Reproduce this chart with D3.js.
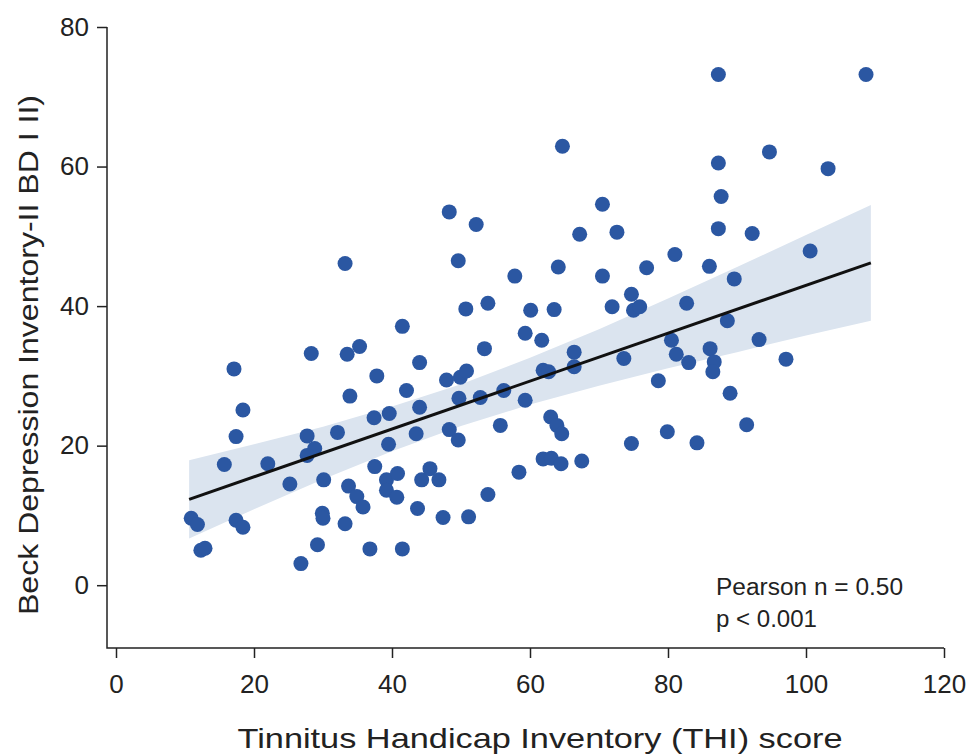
<!DOCTYPE html>
<html>
<head>
<meta charset="utf-8">
<script src="https://cdn.jsdelivr.net/npm/d3@7"></script>
<style>
  body { margin: 0; background: #fff; }
  svg { display: block; font-family: "Liberation Sans", Arial, Helvetica, sans-serif; }
</style>
</head>
<body>
<svg id="chart" width="966" height="754"></svg>
<script>
// THI score (x) and BDI-II score (y) for each patient
var thiScores = [
    17.1, 18.4, 17.4, 15.7, 22.0, 10.9, 11.8, 17.4, 18.4, 12.3, 12.9, 25.2, 27.7, 28.8, 27.7, 30.1,
    28.3, 33.5, 35.3, 33.9, 32.1, 33.7, 34.9, 35.8, 29.9, 30.0, 33.2, 29.2, 26.8, 36.8, 41.5, 50.7,
    53.9, 60.1, 63.5, 71.9, 59.3, 61.7, 53.4, 44.0, 37.8, 42.1, 47.9, 49.9, 50.8, 37.4, 39.6, 44.0,
    49.7, 52.8, 56.2, 59.3, 61.9, 62.7, 66.4, 66.4, 39.5, 43.5, 48.3, 49.6, 55.7, 63.0, 63.9, 64.6,
    37.5, 39.2, 40.8, 39.2, 40.7, 44.3, 45.5, 46.8, 43.7, 47.4, 51.1, 53.9, 58.4, 61.9, 63.1, 64.5,
    67.5, 41.5, 75.0, 75.9, 82.7, 88.6, 80.5, 81.2, 83.0, 86.1, 86.7, 86.5, 93.2, 97.1, 73.6, 78.6,
    89.0, 79.9, 74.7, 84.2, 91.4, 64.7, 48.3, 52.2, 49.6, 70.5, 67.2, 72.6, 64.1, 57.8, 70.5, 87.3,
    108.7, 94.7, 103.2, 87.3, 87.7, 87.3, 92.2, 81.0, 76.9, 86.0, 89.6, 100.6, 74.7, 33.2
];
var bdiScores = [
    31.0, 25.1, 21.3, 17.3, 17.4, 9.6, 8.7, 9.3, 8.3, 5.0, 5.3, 14.5, 21.4, 19.6, 18.6, 15.1,
    33.2, 33.1, 34.2, 27.1, 21.9, 14.2, 12.7, 11.2, 10.3, 9.6, 8.8, 5.8, 3.1, 5.2, 37.1, 39.6,
    40.4, 39.4, 39.5, 39.9, 36.1, 35.1, 33.9, 31.9, 30.0, 27.9, 29.4, 29.8, 30.7, 24.0, 24.6, 25.5,
    26.8, 26.9, 27.9, 26.5, 30.8, 30.6, 33.4, 31.3, 20.2, 21.7, 22.3, 20.8, 22.9, 24.1, 22.9, 21.7,
    17.0, 15.1, 16.0, 13.6, 12.6, 15.1, 16.7, 15.1, 11.0, 9.7, 9.8, 13.0, 16.2, 18.1, 18.2, 17.4,
    17.8, 5.2, 39.4, 39.9, 40.4, 37.9, 35.1, 33.1, 31.9, 33.9, 32.0, 30.6, 35.2, 32.4, 32.5, 29.3,
    27.5, 22.0, 20.3, 20.4, 23.0, 62.9, 53.5, 51.7, 46.5, 54.6, 50.3, 50.6, 45.6, 44.3, 44.3, 73.2,
    73.2, 62.1, 59.7, 60.5, 55.7, 51.1, 50.4, 47.4, 45.5, 45.7, 43.9, 47.9, 41.7, 46.1
];

// fitted regression line and its confidence band
var fitX = [10.6, 109.4];
var fitY = [12.3, 46.2];
var bandX = [10.6, 20, 30, 40, 50, 60, 70, 80, 90, 100, 109.4];
var bandLo = [6.7, 10.9, 15.2, 19.2, 22.8, 25.9, 28.6, 31.1, 33.4, 35.8, 37.9];
var bandHi = [17.9, 20.2, 22.7, 25.6, 28.8, 32.6, 36.7, 41.1, 45.6, 50.2, 54.5];

var xTicks = [0, 20, 40, 60, 80, 100, 120];
var yTicks = [0, 20, 40, 60, 80];
var statLines = ['Pearson n = 0.50', 'p < 0.001'];

var svg = d3.select('#chart'),
    axisX0 = 107, axisY0 = 648,
    pointColor = '#2b57a2', bandColor = '#dbe4ef', inkColor = '#222';

var x = d3.scaleLinear().domain([0, 120]).range([116, 944]);
var y = d3.scaleLinear().domain([-9, 80]).range([648, 27]);

// confidence band
var band = d3.area()
    .x(function (d, i) { return x(bandX[i]); })
    .y0(function (d, i) { return y(bandLo[i]); })
    .y1(function (d, i) { return y(bandHi[i]); });
svg.append('path')
    .datum(bandX)
    .attr('d', band)
    .attr('fill', bandColor);

// points
svg.append('g').selectAll('circle')
    .data(thiScores)
    .enter().append('circle')
    .attr('cx', function (d) { return x(d); })
    .attr('cy', function (d, i) { return y(bdiScores[i]); })
    .attr('r', 7.5)
    .attr('fill', pointColor);

// regression line
var fit = d3.line()
    .x(function (d) { return x(d); })
    .y(function (d, i) { return y(fitY[i]); });
svg.append('path')
    .datum(fitX)
    .attr('d', fit)
    .attr('fill', 'none')
    .attr('stroke', '#111')
    .attr('stroke-width', 3);

// axes: d3 ticks, domain lines drawn by hand so they meet at the corner
var gx = svg.append('g')
    .attr('transform', 'translate(0,' + axisY0 + ')')
    .call(d3.axisBottom(x).tickValues(xTicks).tickSize(10).tickPadding(17));
var gy = svg.append('g')
    .attr('transform', 'translate(' + axisX0 + ',0)')
    .call(d3.axisLeft(y).tickValues(yTicks).tickSize(10).tickPadding(8));
[gx, gy].forEach(function (g) {
    g.select('.domain').remove();
    g.selectAll('.tick line').attr('stroke', inkColor).attr('stroke-width', 1.5);
    g.selectAll('.tick text')
        .attr('fill', inkColor)
        .style('font-size', '26px')
        .style('font-family', '"Liberation Sans", Arial, sans-serif');
});
svg.append('path')
    .attr('d', 'M' + axisX0 + ',' + y(80) + 'V' + axisY0 + 'H' + x(120))
    .attr('fill', 'none')
    .attr('stroke', inkColor)
    .attr('stroke-width', 1.5);

// axis titles (stretched to the widths they take in the figure)
svg.append('text')
    .attr('x', 540)
    .attr('y', 748)
    .attr('text-anchor', 'middle')
    .attr('textLength', 605)
    .attr('lengthAdjust', 'spacingAndGlyphs')
    .attr('fill', inkColor)
    .style('font-size', '28px')
    .text('Tinnitus Handicap Inventory (THI) score');
svg.append('text')
    .attr('transform', 'translate(38,355) rotate(-90)')
    .attr('text-anchor', 'middle')
    .attr('textLength', 520)
    .attr('lengthAdjust', 'spacingAndGlyphs')
    .attr('fill', inkColor)
    .style('font-size', '27px')
    .text('Beck Depression Inventory-II BD I II)');

// correlation note
var statWidths = [187, 101];
svg.append('g').selectAll('text')
    .data(statLines)
    .enter().append('text')
    .attr('x', 716)
    .attr('y', function (d, i) { return 595 + i * 32; })
    .attr('textLength', function (d, i) { return statWidths[i]; })
    .attr('lengthAdjust', 'spacingAndGlyphs')
    .attr('fill', inkColor)
    .style('font-size', '23px')
    .text(function (d) { return d; });
</script>
</body>
</html>
